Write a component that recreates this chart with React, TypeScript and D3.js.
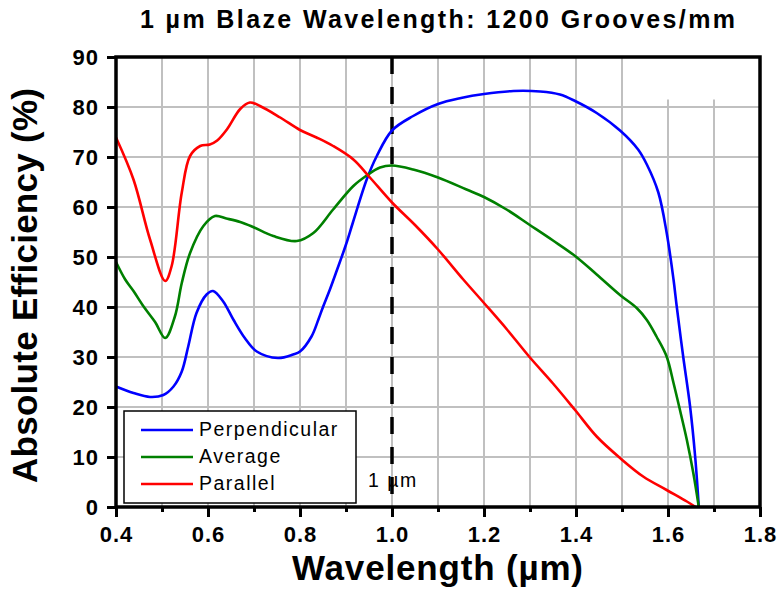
import { useEffect, useRef } from 'react';
import * as d3 from 'd3';

// wavelength (µm) / absolute efficiency (%)
const perpWavelength = [
  0.4, 0.438, 0.474, 0.503, 0.525, 0.543, 0.557, 0.575, 0.597, 0.611, 0.633, 0.655, 0.68, 0.706,
  0.752, 0.785, 0.8, 0.825, 0.84, 0.85, 0.865, 0.88, 0.9, 0.915, 0.945, 0.967, 1.0, 1.046, 1.1,
  1.15, 1.2, 1.264, 1.322, 1.365, 1.398, 1.445, 1.497, 1.535, 1.554, 1.579, 1.597, 1.612, 1.619,
  1.633, 1.648, 1.659, 1.667,
];
const perpEfficiency = [
  24.1, 22.8, 22.0, 22.4, 24.1, 27.1, 32.1, 38.8, 42.5, 43.2, 41.1, 37.5, 33.8, 31.1, 29.8, 30.5,
  31.1, 34.1, 37.5, 40.0, 43.5, 47.3, 52.5, 56.9, 65.5, 70.2, 75.3, 78.2, 80.6, 81.8, 82.6, 83.2,
  83.1, 82.5, 81.2, 78.8, 75.2, 71.5, 68.5, 62.9, 54.9, 45.5, 40.1, 30.1, 20.1, 10.1, 0,
];

const avgWavelength = [
  0.4, 0.42, 0.438, 0.46, 0.485, 0.507, 0.528, 0.543, 0.561, 0.59, 0.615, 0.64, 0.67, 0.698, 0.742,
  0.793, 0.829, 0.872, 0.916, 0.945, 0.974, 1.0, 1.046, 1.1, 1.162, 1.2, 1.249, 1.298, 1.35, 1.398,
  1.445, 1.497, 1.532, 1.554, 1.575, 1.597, 1.612, 1.626, 1.641, 1.655, 1.667,
];
const avgEfficiency = [
  49.0, 45.5, 43.2, 40.1, 37.0, 33.8, 38.1, 44.8, 50.8, 56.2, 58.2, 57.7, 57.0, 56.0, 54.2, 53.2,
  54.8, 59.5, 64.2, 66.3, 67.9, 68.3, 67.5, 65.9, 63.5, 62.0, 59.5, 56.5, 53.3, 50.2, 46.5, 42.3,
  39.8, 37.4, 34.1, 30.1, 24.8, 19.4, 13.4, 6.8, 0,
];

const parWavelength = [
  0.4, 0.438, 0.474, 0.507, 0.521, 0.543, 0.561, 0.583, 0.604, 0.62, 0.641, 0.67, 0.691, 0.713,
  0.757, 0.8, 0.836, 0.872, 0.916, 0.952, 1.0, 1.05, 1.1, 1.155, 1.2, 1.25, 1.298, 1.35, 1.398,
  1.445, 1.497, 1.546, 1.597, 1.641, 1.66,
];
const parEfficiency = [
  73.9, 65.5, 53.5, 45.2, 48.2, 62.9, 70.2, 72.2, 72.5, 73.3, 75.5, 79.6, 80.9, 80.2, 77.9, 75.4,
  73.9, 72.2, 69.5, 65.9, 60.9, 56.4, 51.5, 45.5, 40.8, 35.5, 30.1, 24.7, 19.4, 14.1, 9.7, 6.1, 3.4,
  1.1, 0,
];

const seriesNames = ['Perpendicular', 'Average', 'Parallel'];
const seriesColors = ['#0000ff', '#008000', '#ff0000'];

const xTicks = [0.4, 0.6, 0.8, 1.0, 1.2, 1.4, 1.6, 1.8];
const xMinorTicks = [0.5, 0.7, 0.9, 1.1, 1.3, 1.5, 1.7];
const xGrid = [0.5, 0.6, 0.7, 0.8, 0.9, 1.0, 1.1, 1.2, 1.3, 1.4, 1.5, 1.6, 1.7];
const yTicks = [0, 10, 20, 30, 40, 50, 60, 70, 80, 90];
const yGrid = [10, 20, 30, 40, 50, 60, 70, 80];
const blazeWavelength = 1.0;

const title = '1 µm Blaze Wavelength: 1200 Grooves/mm';
const xLabel = 'Wavelength (µm)';
const yLabel = 'Absolute Efficiency (%)';
const blazeLabel = '1 µm';

const FONT = '"Liberation Sans", Arial, sans-serif';

export default function App() {
  const ref = useRef<SVGSVGElement | null>(null);

  useEffect(() => {
    if (!ref.current) return;
    const width = 780;
    const height = 590;
    const margin = { top: 57, right: 20, bottom: 83, left: 116 };

    const svg = d3.select(ref.current);
    svg.selectAll('*').remove();
    svg.attr('width', width).attr('height', height).style('font-family', FONT);
    svg.append('rect').attr('width', width).attr('height', height).attr('fill', '#fff');

    const x = d3.scaleLinear().domain([0.4, 1.8]).range([margin.left, width - margin.right]);
    const y = d3.scaleLinear().domain([0, 90]).range([height - margin.bottom, margin.top]);

    // grid
    const grid = svg.append('g').attr('stroke', '#c0c0c0').attr('stroke-width', 2);
    grid
      .selectAll('line.v')
      .data(xGrid)
      .join('line')
      .attr('x1', d => x(d))
      .attr('x2', d => x(d))
      .attr('y1', y(0))
      .attr('y2', y(90));
    grid
      .selectAll('line.h')
      .data(yGrid)
      .join('line')
      .attr('class', 'h')
      .attr('x1', x(0.4))
      .attr('x2', x(1.8))
      .attr('y1', d => y(d))
      .attr('y2', d => y(d));

    // blank patch in the top right corner of the original
    svg
      .append('rect')
      .attr('x', x(1.55))
      .attr('y', y(90))
      .attr('width', x(1.79) - x(1.55))
      .attr('height', y(81.5) - y(90))
      .attr('fill', '#fff');

    // blaze marker
    svg
      .append('line')
      .attr('x1', x(blazeWavelength))
      .attr('x2', x(blazeWavelength))
      .attr('y1', y(90))
      .attr('y2', y(0))
      .attr('stroke', '#000')
      .attr('stroke-width', 3.5)
      .attr('stroke-dasharray', '17 13');

    const line = d3
      .line<[number, number]>()
      .x(d => x(d[0]))
      .y(d => y(d[1]))
      .curve(d3.curveCatmullRom.alpha(0.5));

    const series = [
      d3.zip(perpWavelength, perpEfficiency),
      d3.zip(avgWavelength, avgEfficiency),
      d3.zip(parWavelength, parEfficiency),
    ] as [number, number][][];

    series.forEach((s, i) => {
      svg
        .append('path')
        .datum(s)
        .attr('fill', 'none')
        .attr('stroke', seriesColors[i])
        .attr('stroke-width', 2.6)
        .attr('stroke-linejoin', 'round')
        .attr('d', line);
    });

    // axes
    const bottom = svg
      .append('g')
      .attr('transform', `translate(0,${y(0)})`)
      .call(d3.axisBottom(x).tickValues(xTicks).tickSize(10).tickFormat(d3.format('.1f')));
    bottom
      .selectAll('text')
      .attr('y', 35)
      .attr('dy', 0)
      .attr('font-size', 22)
      .attr('font-weight', 'bold')
      .attr('letter-spacing', 1)
      .attr('fill', '#000');
    svg
      .append('g')
      .attr('transform', `translate(0,${y(0)})`)
      .call(d3.axisBottom(x).tickValues(xMinorTicks).tickSize(5).tickFormat(() => ''));

    const left = svg
      .append('g')
      .attr('transform', `translate(${x(0.4)},0)`)
      .call(d3.axisLeft(y).tickValues(yTicks).tickSize(9));
    left
      .selectAll('text')
      .attr('x', -17)
      .attr('dy', '0.34em')
      .attr('font-size', 22)
      .attr('font-weight', 'bold')
      .attr('letter-spacing', 1)
      .attr('fill', '#000');

    svg.selectAll('.domain').remove();
    svg.selectAll('.tick line').attr('stroke', '#000').attr('stroke-width', 3);

    svg
      .append('rect')
      .attr('x', x(0.4))
      .attr('y', y(90))
      .attr('width', x(1.8) - x(0.4))
      .attr('height', y(0) - y(90))
      .attr('fill', 'none')
      .attr('stroke', '#000')
      .attr('stroke-width', 3.5);

    // legend
    const lg = svg.append('g');
    lg.append('rect')
      .attr('x', 124)
      .attr('y', 411)
      .attr('width', 232)
      .attr('height', 92)
      .attr('fill', '#fff')
      .attr('stroke', '#000')
      .attr('stroke-width', 1.5);
    seriesNames.forEach((name, i) => {
      const ly = 430 + i * 27;
      lg.append('line')
        .attr('x1', 141)
        .attr('x2', 193)
        .attr('y1', ly)
        .attr('y2', ly)
        .attr('stroke', seriesColors[i])
        .attr('stroke-width', 2.6);
      lg.append('text')
        .attr('x', 199)
        .attr('y', ly + 6)
        .attr('font-size', 19.5)
        .attr('letter-spacing', 1.5)
        .text(name);
    });

    svg
      .append('text')
      .attr('x', x(blazeWavelength) - 24)
      .attr('y', 487)
      .attr('font-size', 19.5)
      .attr('letter-spacing', 1.5)
      .text(blazeLabel);

    // titles
    svg
      .append('text')
      .attr('x', 140)
      .attr('y', 28)
      .attr('font-size', 25)
      .attr('font-weight', 'bold')
      .attr('textLength', 595)
      .attr('lengthAdjust', 'spacing')
      .text(title);
    svg
      .append('text')
      .attr('x', 292)
      .attr('y', 580)
      .attr('font-size', 35)
      .attr('font-weight', 'bold')
      .attr('textLength', 291)
      .attr('lengthAdjust', 'spacing')
      .text(xLabel);
    svg
      .append('text')
      .attr('transform', 'translate(37,483) rotate(-90)')
      .attr('font-size', 35)
      .attr('font-weight', 'bold')
      .attr('textLength', 395)
      .attr('lengthAdjust', 'spacing')
      .text(yLabel);
  }, []);

  return <svg ref={ref} style={{ position: 'absolute', left: 0, top: 0, display: 'block' }} />;
}
